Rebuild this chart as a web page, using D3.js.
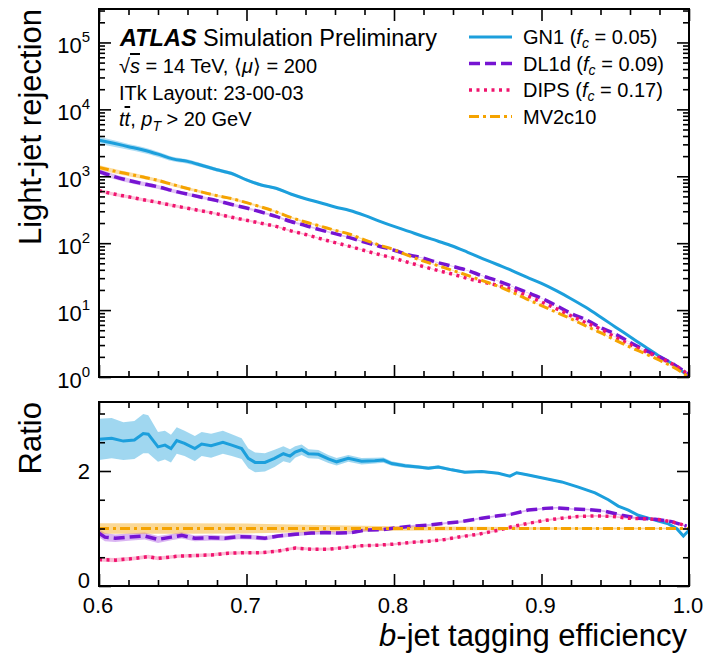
<!DOCTYPE html>
<html><head><meta charset="utf-8">
<script src="https://cdn.jsdelivr.net/npm/d3@7"></script>
<style>
body{margin:0;background:#fff}
text{font-family:"Liberation Sans",Arial,Helvetica,sans-serif;fill:#000}
</style></head>
<body><svg id="c" width="705" height="654"></svg>
<script>
// ---------- data ----------
const effGrid=[0.60,0.61,0.62,0.63,0.64,0.65,0.66,0.67,0.68,0.69,0.70,0.71,0.72,0.73,0.74,0.75,0.76,0.77,0.78,0.79,0.80,0.81,0.82,0.83,0.84,0.85,0.86,0.87,0.88,0.89,0.90,0.91,0.92,0.93,0.94,0.95,0.96,0.97,0.98,0.99,1.00];
const gn1Rej=[3470,3110,2770,2470,2140,1820,1670,1450,1250,1100,881,741,661,543,462,403,348,308,260,214,178,150,126,107,90,73,59,48,39,31,25,19.5,14.8,11.0,7.9,5.6,4.0,2.85,2.04,1.51,1.0];
const dl1dRej=[1175,995,867,773,695,608,541,482,432,378,335,292,251,211,184,158,139,121,104,90,78.5,67,59.6,51,45,39,32.4,27.5,22.6,18.4,15.0,11.7,8.9,7.2,5.5,4.37,3.3,2.54,2.0,1.53,1.07];
const dipsRej=[610,543,493,447,407,366,333,302,274,244,220,198,178,153,135,117,102,89.5,77.6,67.6,59.6,51.3,44.7,38.9,34.3,29.7,26.3,23.5,20.2,16.5,13.2,10.5,8.2,6.5,5.2,3.94,3.05,2.43,1.93,1.51,1.07];
const mv2c10Rej=[1360,1200,1080,973,867,752,658,579,513,463,403,347,295,243,207,180,156,136,112,94,80,65,54,46,39,33,27.5,23,18.5,14.6,11.7,9.3,7.4,5.8,4.6,3.55,2.8,2.24,1.78,1.38,1.0];
const gn1RelErr=[0.12,0.11,0.10,0.10,0.09,0.08,0.075,0.07,0.065,0.06,0.055,0.05,0.045,0.04,0.035,0.03,0.028,0.026,0.024,0.022,0.02,0.019,0.018,0.017,0.016,0.015,0.014,0.013,0.012,0.011,0.01,0.01,0.01,0.01,0.01,0.01,0.01,0.01,0.01,0.01,0.01];
const dl1dRelErr=[0.09,0.085,0.08,0.075,0.07,0.065,0.06,0.055,0.05,0.045,0.04,0.038,0.035,0.032,0.03,0.028,0.026,0.024,0.022,0.02,0.019,0.018,0.017,0.016,0.015,0.014,0.013,0.012,0.011,0.01,0.01,0.01,0.01,0.01,0.01,0.01,0.01,0.01,0.01,0.01,0.01];
const dipsRelErr=[0.06,0.058,0.055,0.052,0.05,0.048,0.045,0.042,0.04,0.038,0.035,0.033,0.03,0.028,0.026,0.024,0.022,0.02,0.019,0.018,0.017,0.016,0.015,0.014,0.013,0.012,0.011,0.01,0.01,0.01,0.01,0.01,0.01,0.01,0.01,0.01,0.01,0.01,0.01,0.01,0.01];
const mv2c10RelErr=[0.08,0.075,0.07,0.065,0.06,0.055,0.05,0.048,0.045,0.042,0.04,0.038,0.035,0.032,0.03,0.028,0.026,0.024,0.022,0.02,0.019,0.018,0.017,0.016,0.015,0.014,0.013,0.012,0.011,0.01,0.01,0.01,0.01,0.01,0.01,0.01,0.01,0.01,0.01,0.01,0.01];

const gn1RatioEff=[0.600,0.6086,0.6165,0.624,0.630,0.6334,0.640,0.6447,0.6488,0.6527,0.658,0.665,0.6696,0.676,0.684,0.690,0.6967,0.7012,0.7058,0.7125,0.719,0.725,0.7295,0.733,0.7374,0.742,0.7487,0.7555,0.7611,0.769,0.778,0.787,0.7928,0.7984,0.8075,0.8165,0.8233,0.830,0.8391,0.848,0.8595,0.8707,0.8786,0.8832,0.891,0.9024,0.9137,0.925,0.9363,0.9453,0.952,0.9589,0.9656,0.9724,0.9792,0.986,0.9916,0.9962,1.000];
const gn1Ratio=[2.55,2.57,2.52,2.54,2.65,2.64,2.42,2.45,2.39,2.53,2.48,2.39,2.47,2.44,2.50,2.45,2.39,2.22,2.15,2.15,2.22,2.30,2.26,2.33,2.37,2.30,2.29,2.21,2.16,2.22,2.17,2.18,2.19,2.13,2.09,2.07,2.05,2.07,2.02,1.98,1.99,1.96,1.91,1.97,1.93,1.87,1.81,1.72,1.62,1.50,1.39,1.32,1.23,1.18,1.13,1.08,1.00,0.87,0.97];
const gn1RatioErr=[0.36,0.35,0.33,0.33,0.34,0.33,0.26,0.25,0.24,0.23,0.22,0.22,0.21,0.21,0.20,0.19,0.18,0.17,0.17,0.16,0.15,0.13,0.12,0.10,0.09,0.08,0.075,0.07,0.065,0.06,0.055,0.05,0.045,0.04,0.035,0.032,0.03,0.028,0.026,0.024,0.022,0.02,0.02,0.02,0.018,0.018,0.016,0.016,0.015,0.015,0.014,0.014,0.013,0.013,0.012,0.012,0.012,0.012,0.012];
const dl1dRatioEff=[0.600,0.604,0.611,0.62,0.631,0.640,0.649,0.656,0.665,0.676,0.6854,0.6945,0.7035,0.7125,0.7216,0.733,0.744,0.753,0.7622,0.7713,0.780,0.7917,0.8007,0.812,0.8233,0.8346,0.8459,0.8595,0.8707,0.8798,0.891,0.9024,0.9103,0.9205,0.9317,0.943,0.9544,0.9656,0.977,0.9883,0.9984];
const dl1dRatio=[0.92,0.85,0.83,0.85,0.87,0.81,0.85,0.88,0.83,0.84,0.83,0.86,0.85,0.83,0.87,0.90,0.92,0.93,0.92,0.93,0.97,0.98,1.01,1.04,1.06,1.09,1.12,1.18,1.22,1.25,1.32,1.35,1.36,1.34,1.33,1.30,1.23,1.18,1.16,1.12,1.04];
const dl1dRatioErr=[0.07,0.07,0.065,0.065,0.06,0.06,0.055,0.055,0.05,0.05,0.045,0.045,0.04,0.04,0.035,0.035,0.03,0.03,0.028,0.026,0.025,0.024,0.022,0.02,0.02,0.018,0.018,0.016,0.016,0.015,0.015,0.014,0.014,0.013,0.013,0.012,0.012,0.012,0.012,0.012,0.012];
const dipsRatioEff=[0.600,0.611,0.624,0.6334,0.640,0.6538,0.665,0.676,0.6877,0.699,0.7103,0.7216,0.733,0.744,0.7555,0.7668,0.778,0.7894,0.8007,0.812,0.8233,0.8346,0.8459,0.857,0.8707,0.8798,0.891,0.9024,0.9137,0.925,0.9363,0.9476,0.9589,0.9702,0.9815,0.9927,0.9984];
const dipsRatio=[0.46,0.45,0.48,0.51,0.48,0.52,0.53,0.54,0.57,0.58,0.58,0.61,0.66,0.64,0.64,0.67,0.70,0.71,0.73,0.76,0.78,0.81,0.86,0.90,0.97,1.03,1.09,1.14,1.18,1.21,1.22,1.21,1.18,1.17,1.15,1.09,1.04];
const dipsRatioErr=[0.035,0.035,0.033,0.033,0.032,0.03,0.03,0.028,0.028,0.026,0.026,0.025,0.025,0.024,0.024,0.022,0.022,0.02,0.02,0.02,0.018,0.018,0.018,0.016,0.016,0.016,0.015,0.015,0.015,0.014,0.014,0.014,0.013,0.013,0.013,0.012,0.012];
const mv2c10RatioEff=[0.60,0.65,0.70,0.75,0.80,0.85,0.90,0.95,1.00];
const mv2c10Ratio=[1,1,1,1,1,1,1,1,1];
const mv2c10RatioErr=[0.09,0.09,0.085,0.06,0.04,0.03,0.022,0.016,0.012];

const xMajorTicks=[0.6,0.7,0.8,0.9,1.0];
const xMinorTicks=[0.62,0.64,0.66,0.68,0.72,0.74,0.76,0.78,0.82,0.84,0.86,0.88,0.92,0.94,0.96,0.98];
const yTopMajorTicks=[1,10,100,1000,10000,100000];
const yTopTickExp=["0","1","2","3","4","5"];
const yRatMajorTicks=[0,2];
const yRatMinorTicks=[0.5,1,1.5,2.5,3];
const legendNames=["GN1","DL1d","DIPS","MV2c10"];
const legendFc=["0.05","0.09","0.17",null];

// ---------- layout ----------
const svg=d3.select("#c");
const x=d3.scaleLinear().domain([0.6,1.0]).range([99,689]);
const yTop=d3.scaleLog().domain([1,Math.pow(10,5.5)]).range([377,9]);
const yRat=d3.scaleLinear().domain([0,3.2]).range([586,402]);

const styles=[
 {color:"#1c9fdc",band:"#1c9fdc",dash:null,width:3},
 {color:"#7614d2",band:"#a64fe0",dash:"11,5",width:3.5},
 {color:"#f0146e",band:"#f45c98",dash:"3,4.5",width:3.5},
 {color:"#f5a300",band:"#f5a300",dash:"10,4,3,4",width:3}
];
const series=[
 {rej:gn1Rej,relErr:gn1RelErr,rEff:gn1RatioEff,r:gn1Ratio,rErr:gn1RatioErr},
 {rej:dl1dRej,relErr:dl1dRelErr,rEff:dl1dRatioEff,r:dl1dRatio,rErr:dl1dRatioErr},
 {rej:dipsRej,relErr:dipsRelErr,rEff:dipsRatioEff,r:dipsRatio,rErr:dipsRatioErr},
 {rej:mv2c10Rej,relErr:mv2c10RelErr,rEff:mv2c10RatioEff,r:mv2c10Ratio,rErr:mv2c10RatioErr}
].map((s,i)=>Object.assign(s,styles[i],{name:legendNames[i],fc:legendFc[i]}));

const [x0,x1]=x.range();
const defs=svg.append("defs");
defs.append("clipPath").attr("id","clipTop").append("rect")
 .attr("x",x0).attr("y",yTop.range()[1]).attr("width",x1-x0).attr("height",yTop.range()[0]-yTop.range()[1]);
defs.append("clipPath").attr("id","clipRat").append("rect")
 .attr("x",x0).attr("y",yRat.range()[1]).attr("width",x1-x0).attr("height",yRat.range()[0]-yRat.range()[1]);

// ---------- top panel curves ----------
const gTop=svg.append("g").attr("clip-path","url(#clipTop)");
series.forEach(s=>{
 const pts=effGrid.map((e,i)=>({e,v:s.rej[i],err:s.relErr[i]}));
 gTop.append("path").datum(pts)
  .attr("d",d3.area().x(d=>x(d.e)).y0(d=>yTop(Math.max(0.5,d.v*(1-d.err)))).y1(d=>yTop(d.v*(1+d.err))).curve(d3.curveMonotoneX))
  .attr("fill",s.band).attr("opacity",0.35);
});
series.forEach(s=>{
 const pts=effGrid.map((e,i)=>({e,v:s.rej[i]}));
 gTop.append("path").datum(pts)
  .attr("d",d3.line().x(d=>x(d.e)).y(d=>yTop(d.v)).curve(d3.curveMonotoneX))
  .attr("fill","none").attr("stroke",s.color).attr("stroke-width",s.width)
  .attr("stroke-dasharray",s.dash);
});

// ---------- ratio panel ----------
const gRat=svg.append("g").attr("clip-path","url(#clipRat)");
series.forEach(s=>{
 const pts=s.rEff.map((e,i)=>({e,v:s.r[i],err:s.rErr[i]}));
 gRat.append("path").datum(pts)
  .attr("d",d3.area().x(d=>x(d.e)).y0(d=>yRat(d.v-d.err)).y1(d=>yRat(d.v+d.err)))
  .attr("fill",s.band).attr("opacity",0.42);
});
series.forEach(s=>{
 const pts=s.rEff.map((e,i)=>({e,v:s.r[i]}));
 gRat.append("path").datum(pts)
  .attr("d",d3.line().x(d=>x(d.e)).y(d=>yRat(d.v)))
  .attr("fill","none").attr("stroke",s.color).attr("stroke-width",s.width)
  .attr("stroke-dasharray",s.dash);
});

// ---------- axes ----------
const MAJ=12, MIN=6;
function styleAxis(g){
 g.select(".domain").remove();
 g.selectAll(".tick line").attr("stroke","#000").attr("stroke-width",1.6);
 g.selectAll(".tick text").remove();
}
function xAxes(yScale){
 const [yb,yt]=yScale.range();
 svg.append("g").attr("transform",`translate(0,${yb})`).call(d3.axisBottom(x).tickValues(xMajorTicks).tickSize(-MAJ)).call(styleAxis);
 svg.append("g").attr("transform",`translate(0,${yb})`).call(d3.axisBottom(x).tickValues(xMinorTicks).tickSize(-MIN)).call(styleAxis);
 svg.append("g").attr("transform",`translate(0,${yt})`).call(d3.axisTop(x).tickValues(xMajorTicks).tickSize(-MAJ)).call(styleAxis);
 svg.append("g").attr("transform",`translate(0,${yt})`).call(d3.axisTop(x).tickValues(xMinorTicks).tickSize(-MIN)).call(styleAxis);
}
function yAxes(yScale,major,minor){
 svg.append("g").attr("transform",`translate(${x0},0)`).call(d3.axisLeft(yScale).tickValues(major).tickSize(-MAJ)).call(styleAxis);
 svg.append("g").attr("transform",`translate(${x0},0)`).call(d3.axisLeft(yScale).tickValues(minor).tickSize(-MIN)).call(styleAxis);
 svg.append("g").attr("transform",`translate(${x1},0)`).call(d3.axisRight(yScale).tickValues(major).tickSize(-MAJ)).call(styleAxis);
 svg.append("g").attr("transform",`translate(${x1},0)`).call(d3.axisRight(yScale).tickValues(minor).tickSize(-MIN)).call(styleAxis);
}
const logMinor=[];
[1,10,100,1000,10000,100000].forEach(d=>{for(let m=2;m<=9;m++){const v=d*m; if(v<yTop.domain()[1]) logMinor.push(v);}});
xAxes(yTop); yAxes(yTop,yTopMajorTicks,logMinor);
xAxes(yRat); yAxes(yRat,yRatMajorTicks,yRatMinorTicks);

// frames
[yTop,yRat].forEach(ys=>{
 const [yb,yt]=ys.range();
 svg.append("rect").attr("x",x0).attr("y",yt).attr("width",x1-x0).attr("height",yb-yt)
  .attr("fill","none").attr("stroke","#000").attr("stroke-width",2);
});

// tick labels
yTopMajorTicks.forEach((v,i)=>{
 const ty=yTop(v);
 const t=svg.append("text").attr("x",90).attr("y",ty+11).attr("text-anchor","end").attr("font-size",22);
 t.append("tspan").text("10");
 t.append("tspan").attr("font-size",15).attr("dy",-11).text(yTopTickExp[i]);
});
yRatMajorTicks.forEach(v=>{
 svg.append("text").attr("x",90).attr("y",yRat(v)+(v===0?2:8)).attr("text-anchor","end").attr("font-size",22).text(d3.format("d")(v));
});
xMajorTicks.forEach(v=>{
 svg.append("text").attr("x",x(v)-1).attr("y",612.5).attr("text-anchor","middle").attr("font-size",22).text(d3.format(".1f")(v));
});

// axis titles
svg.append("text").attr("transform",`translate(41,${yTop.range()[1]}) rotate(-90)`).attr("text-anchor","end").attr("font-size",31).text("Light-jet rejection");
svg.append("text").attr("transform",`translate(41,${yRat.range()[1]}) rotate(-90)`).attr("text-anchor","end").attr("font-size",31).text("Ratio");
const xt=svg.append("text").attr("x",x1-2).attr("y",646).attr("text-anchor","end").attr("font-size",31);
xt.append("tspan").attr("font-style","italic").text("b");
xt.append("tspan").text("-jet tagging efficiency");

// ATLAS label
const l1=svg.append("text").attr("x",120).attr("y",46).attr("font-size",23.5);
l1.append("tspan").attr("font-weight","bold").attr("font-style","italic").text("ATLAS");
l1.append("tspan").text(" Simulation Preliminary");
const l2=svg.append("text").attr("x",119).attr("y",73).attr("font-size",20);
l2.append("tspan").text("\u221A");
l2.append("tspan").attr("font-style","italic").attr("text-decoration","overline").text("s");
l2.append("tspan").text(" = 14 TeV, \u27E8");
l2.append("tspan").attr("font-style","italic").text("\u03BC");
l2.append("tspan").text("\u27E9 = 200");
svg.append("text").attr("x",119).attr("y",100).attr("font-size",20).text("ITk Layout: 23-00-03");
const l4=svg.append("text").attr("x",119).attr("y",126).attr("font-size",20);
l4.append("tspan").attr("font-style","italic").text("t");
l4.append("tspan").attr("font-style","italic").attr("text-decoration","overline").text("t");
l4.append("tspan").text(", ");
l4.append("tspan").attr("font-style","italic").text("p");
l4.append("tspan").attr("font-style","italic").attr("font-size",14).attr("dy",5).text("T");
l4.append("tspan").attr("dy",-5).text(" > 20 GeV");

// legend
series.forEach((s,i)=>{
 const cy=37+i*26.5;
 svg.append("line").attr("x1",469).attr("x2",512).attr("y1",cy).attr("y2",cy)
  .attr("stroke",s.color).attr("stroke-width",s.width).attr("stroke-dasharray",s.dash);
 const t=svg.append("text").attr("x",523).attr("y",cy+7).attr("font-size",20);
 if(s.fc){
  t.append("tspan").text(s.name+" (");
  t.append("tspan").attr("font-style","italic").text("f");
  t.append("tspan").attr("font-style","italic").attr("font-size",14).attr("dy",4).text("c");
  t.append("tspan").attr("dy",-4).text(" = "+s.fc+")");
 } else t.text(s.name);
});
</script></body></html>
